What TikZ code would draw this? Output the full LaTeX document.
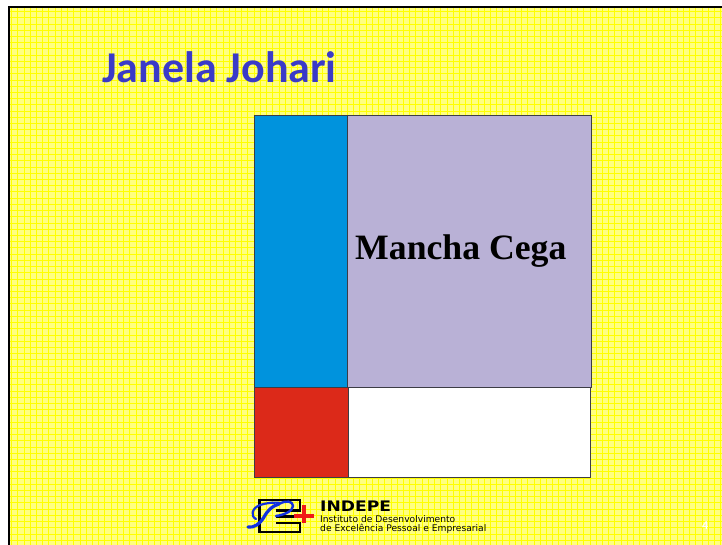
\documentclass[tikz,border=0pt]{standalone}
\usepackage{graphicx}
\usepackage{fontspec}
\setmainfont{Liberation Serif}
\newfontfamily\carlito{Carlito}
\newfontfamily\dejavu{DejaVu Sans}
\definecolor{bgyellow}{HTML}{FFFF80}
\definecolor{gridyellow}{HTML}{FFFF00}
\definecolor{titleblue}{HTML}{3A3AC8}
\definecolor{cellblue}{HTML}{0093DD}
\definecolor{celllilac}{HTML}{B9B1D6}
\definecolor{cellred}{HTML}{DC2919}
\definecolor{edgegray}{HTML}{3C3C44}
\definecolor{logoblue}{HTML}{1030E0}
\definecolor{logored}{HTML}{F01818}
\tikzset{
  x=1pt,y=-1pt,
  cell/.style={draw=edgegray,line width=1pt},
  gridline/.style={gridyellow,line width=0.8pt},
  logoline/.style={black,line width=2.2pt,line join=miter},
  logoscript/.style={logoblue,line cap=round,line join=round},
  lbl/.style={inner sep=0pt,anchor=base west},
}
\begin{document}
\begin{tikzpicture}
\useasboundingbox (0,0) rectangle (722,545);
\fill[white] (0,0) rectangle (722,545);
\fill[bgyellow] (10,8) rectangle (722,545);
% squared paper
\begin{scope}
\clip (10,8) rectangle (722,545);
\foreach \i in {0,...,114} {
  \draw[gridline] ({11.5+6.22*\i},8) -- ({11.5+6.22*\i},545);
}
\foreach \i in {0,...,87} {
  \draw[gridline] (10,{11.5+6.22*\i}) -- (722,{11.5+6.22*\i});
}
\end{scope}
% frame
\fill[black] (8,6) rectangle (722,8);
\fill[black] (8,6) rectangle (10,545);
% title
\node[lbl,font=\carlito\bfseries\fontsize{44}{44}\selectfont,text=titleblue] (title) at (102,82.7) {Janela Johari};
% window panes
\path[cell,fill=white] (348.5,387) rectangle (590.5,477.5);
\path[cell,fill=cellred] (254.5,387) rectangle (348.5,477.5);
\path[cell,fill=cellblue] (254.5,115.5) rectangle (347.5,387);
\path[cell,fill=celllilac] (347.5,115.5) rectangle (591.5,387);
\node[lbl,font=\bfseries\fontsize{35.7}{35.7}\selectfont,text=black] (mancha) at (355,259.3) {Mancha Cega};
% logo
\draw[logoline] (276,510.5) -- (300,510.5) -- (300,500) -- (259.5,500) -- (259.5,532) -- (300,532) -- (300,523) -- (276,523);
\draw[logoline] (276,516.5) -- (297,516.5);
\draw[logoscript,line width=3.2pt] (248,527) .. controls (254,528) and (260,524) .. (264,517)
  .. controls (268,510) and (272,506) .. (279,504);
\draw[logoscript,line width=2.4pt] (279,504) .. controls (286,500) and (293,501) .. (293,506)
  .. controls (293,511) and (284,515) .. (276,516);
\draw[logoscript,line width=2.2pt] (256,519) .. controls (250,516) and (252,508) .. (260,505)
  .. controls (266,503) and (274,502) .. (281,503);
\fill[logored] (294,513.5) rectangle (314,518);
\fill[logored] (301.5,505) rectangle (306,523);
\node[lbl,font=\dejavu\bfseries\fontsize{14.5}{14.5}\selectfont] (brand) at (320,511) {\scalebox{1.18}[1]{INDEPE}};
\node[lbl,font=\dejavu\fontsize{9.15}{9.15}\selectfont] (inst1) at (320,522) {Instituto de Desenvolvimento};
\node[lbl,font=\dejavu\fontsize{9.15}{9.15}\selectfont] (inst2) at (320,531) {de Excelência Pessoal e Empresarial};
\node[lbl,font=\carlito\bfseries\fontsize{12}{12}\selectfont,text=white] (pagenum) at (702,529) {4};
\end{tikzpicture}
\end{document}
